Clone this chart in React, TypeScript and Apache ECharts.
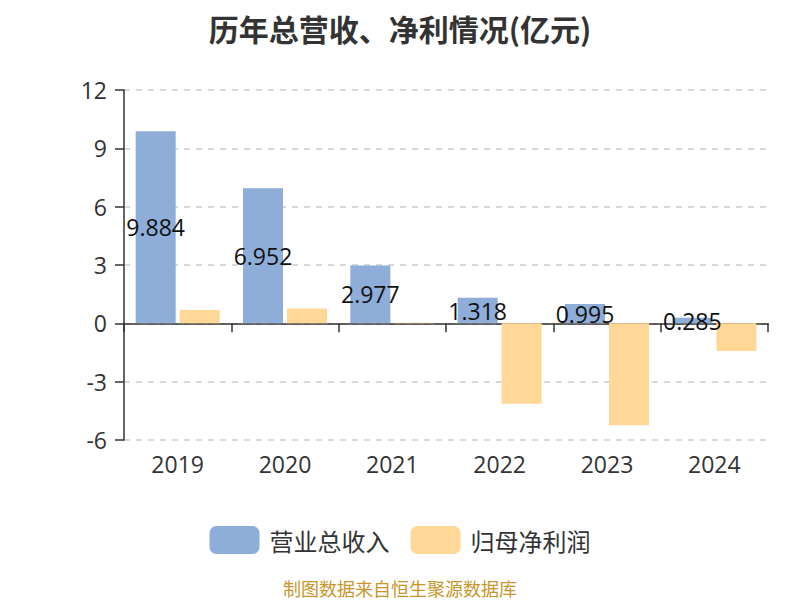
import React, { useEffect, useRef } from "react";
import * as echarts from "echarts";

const categories = ["2019", "2020", "2021", "2022", "2023", "2024"];
const revenue = [9.884, 6.952, 2.977, 1.318, 0.995, 0.285];
const netProfit = [0.69, 0.76, 0.03, -4.14, -5.24, -1.42];
const yTicks = { min: -6, max: 12, interval: 3 };

export default function App() {
  const ref = useRef<HTMLDivElement>(null);
  useEffect(() => {
    if (!ref.current) return;
    const chart = echarts.init(ref.current, null, { renderer: "svg" });
    const cjk = "'Noto Sans CJK SC', 'Noto Sans', sans-serif";
    const num = "'Open Sans', 'Noto Sans CJK SC', sans-serif";
    chart.setOption({
      animation: false,
      textStyle: { fontFamily: cjk },
      title: {
        text: "历年总营收、净利情况(亿元)",
        left: "center",
        top: 8,
        textStyle: { fontSize: 30, fontWeight: "bold", color: "#333", fontFamily: cjk },
      },
      legend: {
        top: 521,
        left: "center",
        itemWidth: 50,
        itemHeight: 28,
        itemGap: 21,
        icon: "roundRect",
        textStyle: { fontSize: 24, color: "#333", fontFamily: cjk, padding: [0, 0, 0, 5] },
        data: ["营业总收入", "归母净利润"],
      },
      graphic: [
        {
          type: "text",
          left: "center",
          top: 579,
          style: { text: "制图数据来自恒生聚源数据库", fontSize: 18, fill: "#c8962a", fontFamily: cjk },
        },
      ],
      grid: { left: 124, right: 32, top: 90, bottom: 160 },
      xAxis: [
        {
          type: "category",
          data: categories,
          position: "bottom",
          axisLine: { show: false, onZero: false },
          axisTick: { show: false },
          axisLabel: { fontSize: 23, color: "#333", margin: 12, fontFamily: num },
        },
        {
          type: "category",
          data: categories,
          position: "bottom",
          axisLine: { show: true, onZero: true, lineStyle: { color: "#333", width: 1.5 } },
          axisTick: { show: true, length: 9, lineStyle: { color: "#333", width: 1.5 } },
          axisLabel: { show: false },
        },
      ],
      yAxis: {
        type: "value",
        min: yTicks.min,
        max: yTicks.max,
        interval: yTicks.interval,
        axisLine: { show: true, lineStyle: { color: "#333", width: 1.5 } },
        axisTick: { show: true, length: 9, lineStyle: { color: "#333", width: 1.5 } },
        axisLabel: { fontSize: 23, color: "#333", margin: 17, fontFamily: num },
        splitLine: { show: true, lineStyle: { type: [6, 6], color: "#ccc", width: 1.5 } },
      },
      series: [
        {
          name: "营业总收入",
          type: "bar",
          xAxisIndex: 0,
          data: revenue,
          barWidth: 40,
          barGap: "10%",
          itemStyle: { color: "#8eadd9" },
          label: {
            show: true,
            position: "inside",
            color: "#111",
            fontSize: 23,
            fontFamily: num,
          },
        },
        {
          name: "归母净利润",
          type: "bar",
          xAxisIndex: 0,
          data: netProfit,
          barWidth: 40,
          barGap: "10%",
          itemStyle: { color: "#ffd897" },
        },
      ],
    });
    return () => chart.dispose();
  }, []);
  return (
    <div
      ref={ref}
      style={{ position: "absolute", left: 0, top: 0, width: 800, height: 600 }}
    />
  );
}
